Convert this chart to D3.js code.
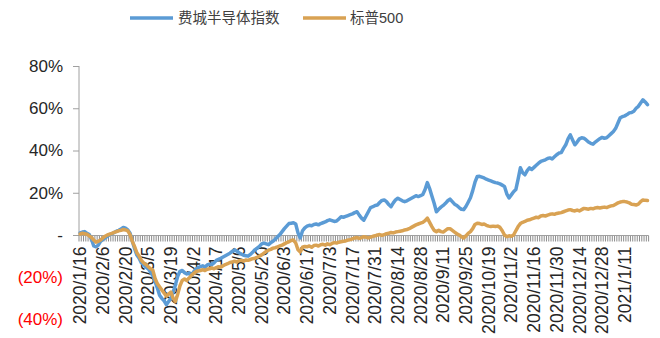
<!DOCTYPE html>
<html>
<head>
<meta charset="utf-8">
<script src="https://cdn.jsdelivr.net/npm/d3@7"></script>
<style>
  html, body { margin: 0; padding: 0; background: #fff; }
  svg { display: block; }
  text { font-family: "Liberation Sans", Arial, "Noto Sans CJK SC", sans-serif; }
</style>
</head>
<body>
<svg id="chart" width="660" height="338"></svg>
<script>
// ---- data ----
const seriesNames = ["费城半导体指数", "标普500"];
const tickLabels = ["2020/1/16","2020/2/6","2020/2/20","2020/3/5","2020/3/19","2020/4/2","2020/4/17","2020/5/6","2020/5/20","2020/6/3","2020/6/17","2020/7/3","2020/7/17","2020/7/31","2020/8/14","2020/8/28","2020/9/11","2020/9/25","2020/10/19","2020/11/2","2020/11/16","2020/11/30","2020/12/14","2020/12/28","2021/1/11"];
const labelEvery = 10;
const yTicks = [-40, -20, 0, 20, 40, 60, 80];

const sox = [
  1.0, 1.4, 1.6, 0.8, 0.2, -2.0, -5.2, -5.6, -4.8, -3.0,
  -2.2, -1.4, -0.6, 0.2, 0.6, 1.2, 1.8, 2.2, 2.8, 3.6,
  3.2, 2.4, 0.8, -3.0, -6.5, -9.5, -11.0, -13.2, -14.0, -15.2,
  -16.0, -17.5, -19.2, -22.0, -25.0, -28.5, -30.0, -31.2, -33.0, -31.5,
  -30.0, -27.0, -23.5, -19.5, -17.2, -16.8, -17.8, -18.4, -18.0, -19.2,
  -17.5, -16.2, -15.4, -15.0, -14.6, -15.2, -14.2, -13.8, -14.0, -13.2,
  -12.0, -11.5, -11.0, -10.4, -9.8, -9.2, -8.6, -7.8, -7.0, -7.6,
  -8.4, -9.0, -9.6, -9.8, -10.0, -9.2, -8.2, -7.0, -6.2, -5.4,
  -4.2, -3.8, -4.2, -4.6, -3.6, -3.0, -2.0, -0.8, 0.2, 1.6,
  3.0, 4.2, 5.4, 5.6, 5.8, 5.2, 1.0, -1.4, 2.0, 3.4,
  4.2, 4.6, 4.4, 5.0, 5.2, 4.8, 5.4, 5.8, 6.2, 6.8,
  7.2, 6.8, 6.4, 6.6, 7.6, 8.6, 8.4, 8.8, 9.2, 9.6,
  10.0, 10.6, 11.0, 9.4, 8.0, 7.0, 9.0, 11.0, 13.0, 13.4,
  14.0, 14.2, 15.4, 16.4, 16.6, 15.8, 14.4, 13.4, 15.2, 16.6,
  17.4, 16.8, 16.2, 15.8, 16.2, 16.8, 17.4, 18.0, 18.6, 18.2,
  18.6, 19.2, 21.5, 24.8, 22.0, 18.5, 15.0, 11.0, 12.2, 13.2,
  14.0, 15.0, 16.2, 17.0, 15.8, 14.6, 14.0, 13.0, 12.2, 12.0,
  13.5, 15.5, 17.6, 21.0, 25.0, 27.7, 27.8, 27.4, 27.0, 26.4,
  26.0, 25.6, 25.2, 24.8, 24.6, 24.2, 23.6, 23.0, 19.5, 17.5,
  19.0, 20.5, 21.5, 26.5, 31.8, 29.5, 28.5, 30.5, 31.8, 31.0,
  32.0, 33.0, 34.0, 34.8, 35.2, 35.6, 36.2, 36.5, 36.0, 37.0,
  38.0, 38.8, 39.0, 41.0, 42.7, 45.5, 47.4, 45.0, 42.7, 44.0,
  45.5, 46.0, 45.8, 45.0, 44.0, 43.4, 43.0, 44.0, 44.8, 45.6,
  46.2, 45.8, 46.0, 47.0, 48.0, 49.0, 50.5, 53.0, 55.5, 56.0,
  56.4, 57.0, 57.8, 58.0, 58.6, 60.0, 60.9, 62.5, 64.0, 63.0,
  61.7
];

const spx = [
  0.5, 0.8, 0.6, 0.4, -0.4, -1.2, -2.4, -3.4, -3.0, -2.4,
  -1.4, -0.6, 0.0, 0.4, 0.8, 1.2, 1.6, 2.0, 2.2, 2.6,
  2.4, 2.0, 0.2, -3.0, -5.5, -8.4, -10.0, -12.0, -13.2, -14.0,
  -15.0, -16.0, -16.6, -20.5, -23.0, -24.5, -26.0, -27.5, -29.0, -28.0,
  -27.0, -30.0, -31.5, -28.0, -24.0, -21.5, -20.8, -21.5, -20.4, -19.2,
  -18.2, -17.4, -17.0, -16.8, -16.4, -16.8, -16.2, -16.0, -15.6, -16.0,
  -15.4, -15.0, -15.2, -14.6, -14.0, -13.6, -13.0, -12.8, -12.4, -12.8,
  -12.2, -12.0, -12.4, -11.8, -12.0, -11.6, -11.2, -11.0, -10.6, -10.0,
  -9.4, -8.6, -7.8, -7.2, -6.8, -6.2, -6.0, -5.6, -5.2, -4.8,
  -4.2, -3.6, -3.2, -2.6, -2.4, -3.8, -7.0, -8.0, -5.8, -5.4,
  -5.6, -5.2, -5.8, -5.0, -4.8, -5.2, -4.6, -4.4, -4.8, -4.2,
  -4.6, -4.0, -3.6, -3.8, -3.4, -3.2, -3.0, -2.8, -2.4, -2.2,
  -1.8, -1.4, -1.2, -1.6, -1.2, -0.8, -1.0, -1.4, -1.0, -0.6,
  -0.4, 0.0, 0.2, -0.2, 0.2, 0.6, 0.8, 1.2, 1.0, 1.4,
  1.6, 1.8, 2.0, 2.4, 2.6, 3.0, 3.6, 4.2, 4.8, 5.2,
  5.6, 6.0, 6.8, 8.0, 6.0, 4.0, 2.2, 1.6, 2.2, 1.6,
  1.4, 2.2, 3.0, 3.0, 2.2, 1.4, 0.6, 0.0, -0.8, -1.4,
  -0.4, 0.8, 1.6, 3.0, 5.0, 5.6, 5.4, 5.0, 5.2, 4.6,
  4.2, 4.0, 4.2, 4.0, 4.2, 3.6, 2.0, 0.0, -0.8, -0.4,
  -0.6, 0.0, 2.0, 4.0, 5.4, 6.0, 6.4, 7.0, 7.2, 7.6,
  8.0, 8.4, 8.2, 9.0, 9.2, 9.0, 9.4, 9.8, 10.0, 9.8,
  10.2, 10.4, 10.6, 11.0, 11.4, 11.8, 12.0, 11.6, 11.4, 11.8,
  11.4, 12.0, 12.6, 12.4, 12.2, 12.6, 12.4, 12.8, 13.0, 12.8,
  13.0, 13.2, 13.0, 13.4, 13.8, 14.0, 14.6, 15.2, 15.6, 15.8,
  15.8, 15.6, 15.2, 14.6, 14.4, 14.2, 14.6, 15.8, 16.6, 16.4,
  16.3
];

const colors = ["#5B9BD5", "#D9A253"];

// ---- chart ----
const svg = d3.select("#chart");
const N = sox.length;
const x = d3.scaleBand().domain(d3.range(N)).range([79, 648.6]).padding(0);
const cx = i => x(i) + x.bandwidth() / 2;
const y = d3.scaleLinear().domain([-40, 80]).range([319.5, 66]);
const axisColor = "#A0A0A0";

// y axis
const yAxis = d3.axisLeft(y).tickValues(yTicks).tickSize(6).tickPadding(10)
  .tickFormat(v => v < 0 ? `(${-v}%)` : (v === 0 ? "-" : v + "%"));
const gy = svg.append("g").attr("transform", "translate(79,0)").call(yAxis);
gy.select(".domain").remove();
gy.selectAll(".tick line").attr("stroke", axisColor).attr("display", d => d < 0 ? "none" : null);
gy.selectAll(".tick text")
  .attr("font-size", 17)
  .attr("fill", d => d < 0 ? "#FF0000" : "#262626");
svg.append("line").attr("x1", 79).attr("x2", 79).attr("y1", y(80)).attr("y2", y(0))
  .attr("stroke", axisColor).attr("stroke-width", 1);

// x axis line + category ticks
const y0 = Math.round(y(0)) + 0.5;
svg.append("g").selectAll("line").data(d3.range(N + 1)).join("line")
  .attr("x1", i => (i < N ? x(i) : x(N - 1) + x.bandwidth()))
  .attr("x2", i => (i < N ? x(i) : x(N - 1) + x.bandwidth()))
  .attr("y1", y0).attr("y2", y0 + 6)
  .attr("stroke", "#8C8C8C").attr("stroke-width", 1);
svg.append("line").attr("x1", 79).attr("x2", 648.6).attr("y1", y0).attr("y2", y0)
  .attr("stroke", axisColor).attr("stroke-width", 1.2);

// x labels
svg.append("g").selectAll("text").data(tickLabels).join("text")
  .attr("transform", (d, k) => `translate(${cx(k * labelEvery)},${y0 + 11}) rotate(-90)`)
  .attr("text-anchor", "end")
  .attr("dy", "0.35em")
  .attr("font-size", 17.5)
  .attr("fill", "#262626")
  .text(d => d);

// lines
const line = d3.line().x((d, i) => cx(i)).y(d => y(d));
[sox, spx].forEach((s, k) => {
  svg.append("path").datum(s)
    .attr("fill", "none").attr("stroke", colors[k]).attr("stroke-width", 3.5)
    .attr("stroke-linejoin", "round").attr("stroke-linecap", "round").attr("d", line);
});

// legend
const legendItems = [
  { x1: 130, x2: 173, tx: 178 },
  { x1: 303, x2: 346, tx: 350 }
];
const lg = svg.append("g");
legendItems.forEach((it, k) => {
  lg.append("line").attr("x1", it.x1).attr("x2", it.x2).attr("y1", 18).attr("y2", 18)
    .attr("stroke", colors[k]).attr("stroke-width", 3.5);
  lg.append("text").attr("x", it.tx).attr("y", 18).attr("dy", "0.35em")
    .attr("font-size", 14.5).attr("fill", "#404040").text(seriesNames[k]);
});
</script>
</body>
</html>
